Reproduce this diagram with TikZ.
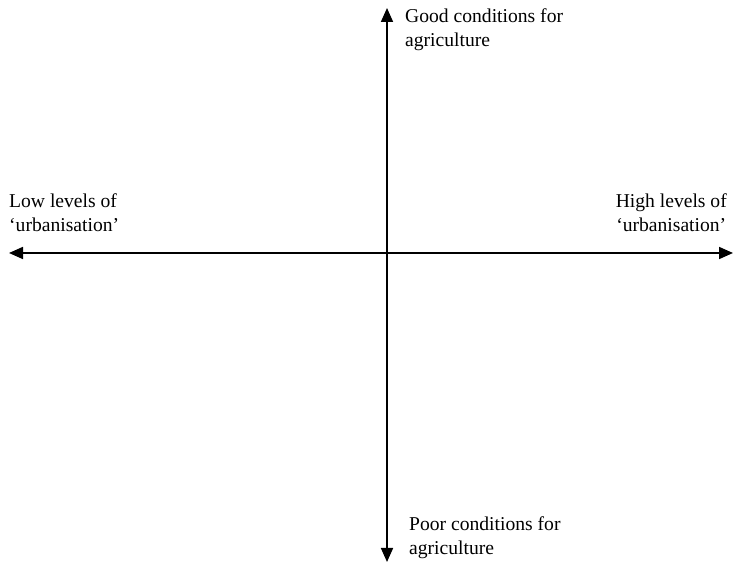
\documentclass[tikz,border=0pt]{standalone}
\usepackage{fontspec}
\setmainfont{Liberation Serif}
\usetikzlibrary{arrows.meta, positioning}

\begin{document}
\begin{tikzpicture}[
    x=1pt, y=1pt,
    axis/.style={{Triangle[length=14pt, width=12pt]}-{Triangle[length=14pt, width=12pt]},
                 line width=1.7pt, draw=black},
    lbl/.style={inner sep=0pt, font=\fontsize{19.6}{24}\selectfont},
]
\useasboundingbox (0,0) rectangle (733,564);

\coordinate (top) at (387,556);
\coordinate (bottom) at (387,2);
\coordinate (left) at (9,311);
\coordinate (right) at (733,311);

\draw[axis] (left) -- (right);
\draw[axis] (bottom) -- (top);

% base anchor sits on the last line
\node[lbl, anchor=base west, align=left] (good) at (405,517.3) {Good conditions for\\agriculture};
\node[lbl, anchor=base west, align=left] (poor) at (409,9) {Poor conditions for\\agriculture};
\node[lbl, anchor=base west, align=left] (low) at (9,332) {Low levels of\\`urbanisation'};
\node[lbl, anchor=base east, align=center] (high) at (727,332) {High levels of\\`urbanisation'};

\end{tikzpicture}
\end{document}
